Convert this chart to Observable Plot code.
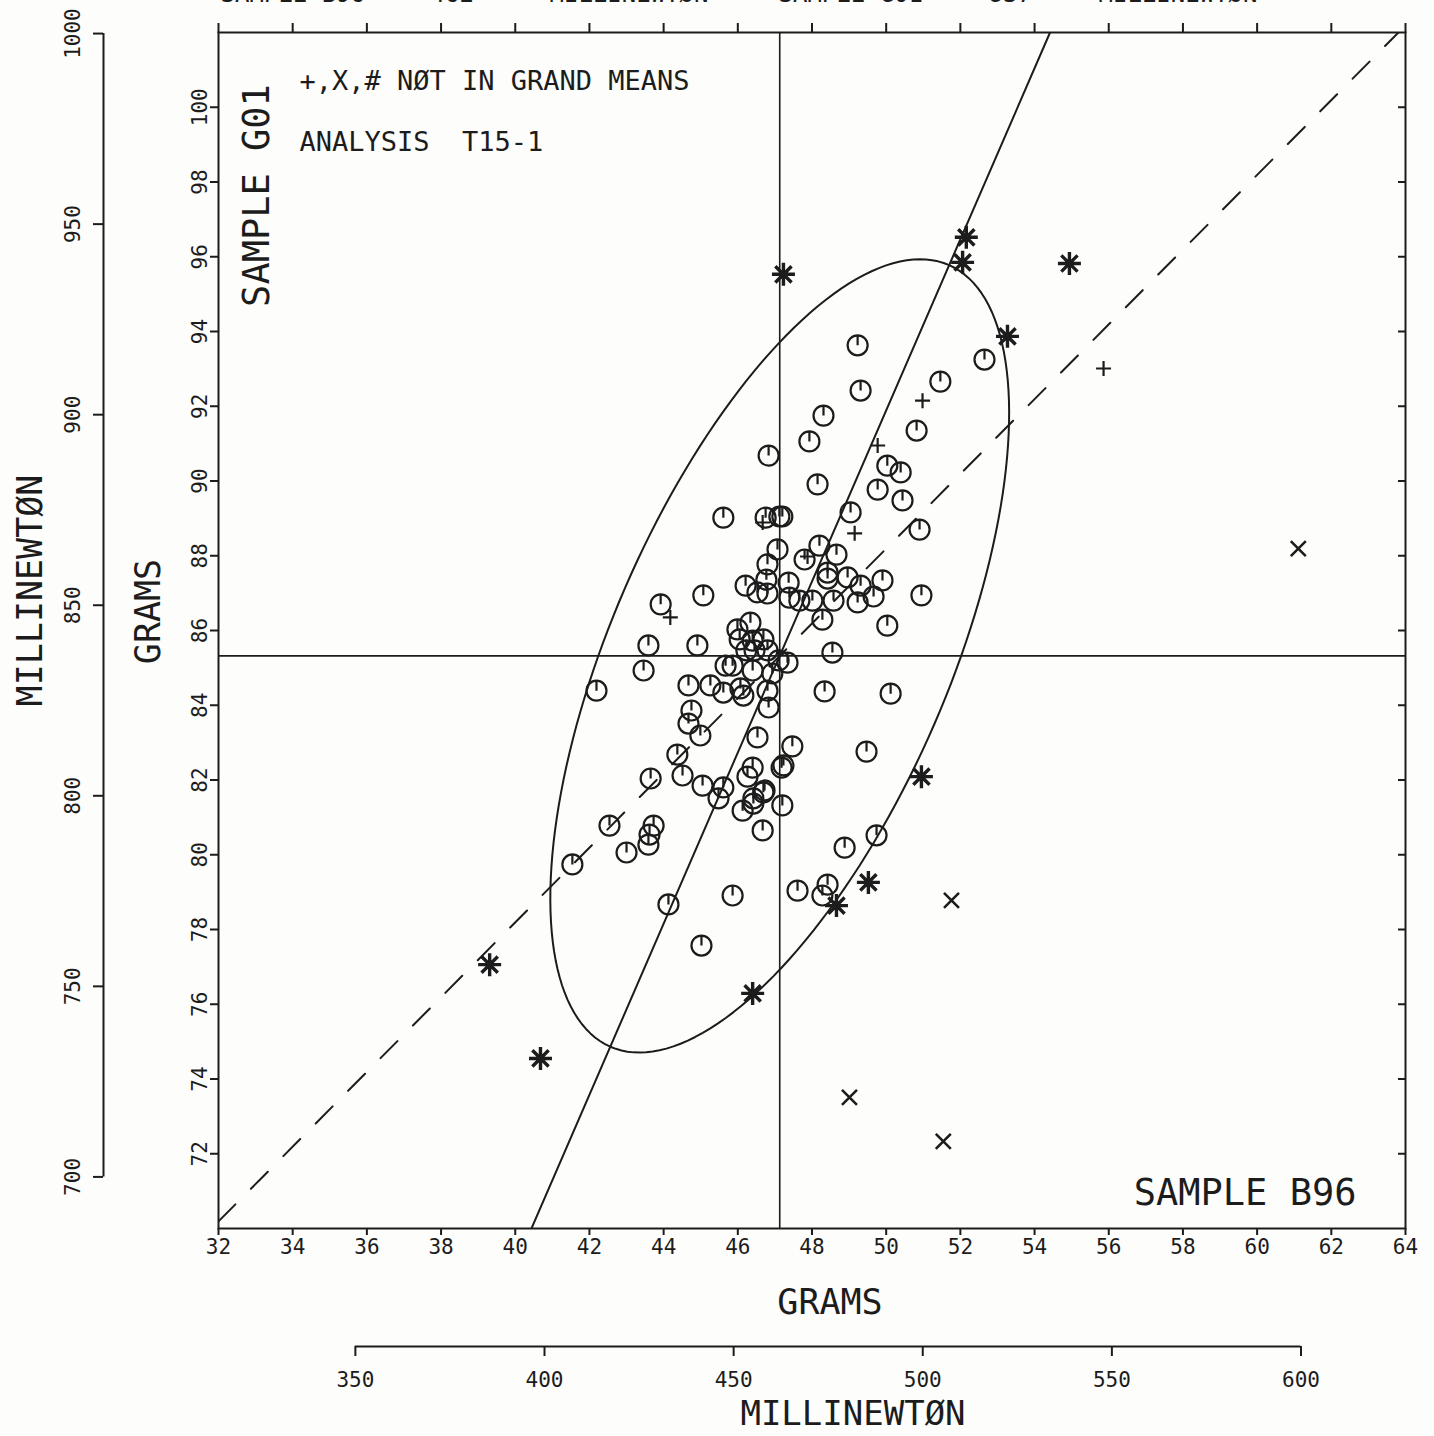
<!DOCTYPE html>
<html>
<head>
<meta charset="utf-8">
<script src="https://cdn.jsdelivr.net/npm/d3@7"></script>
<script src="https://cdn.jsdelivr.net/npm/@observablehq/plot@0.6"></script>
<style>
  html, body { margin: 0; padding: 0; background: #fdfdfb; }
  #chart { width: 1434px; height: 1436px; overflow: hidden; }
</style>
</head>
<body>
<div id="chart"></div>
<script>
// ---------- data (grams: x = sample B96, y = sample G01) ----------
const gramsPerMN = 1 / 9.80665;
const xTicksGrams = d3.range(32, 65, 2);
const yTicksGrams = d3.range(72, 101, 2);
const xTicksMN = [350, 400, 450, 500, 550, 600];
const yTicksMN = [700, 750, 800, 850, 900, 950, 1000];

const medianB96 = 47.13;
const medianG01 = 85.32;

const ellipseSemiMajor = 11.41;
const ellipseSemiMinor = 4.55;
const ellipseAngleDeg = 66.4;

// laboratories included in the grand means (circle with tick)
const inGrandMeans = [
  [49.23, 93.63], [49.31, 92.42], [48.31, 91.75], [47.93, 91.06], [46.83, 90.68],
  [52.65, 93.25], [51.46, 92.66], [50.82, 91.35], [50.03, 90.41], [50.39, 90.23],
  [48.15, 89.91], [49.77, 89.77], [50.44, 89.48], [49.04, 89.16], [50.90, 88.70],
  [45.61, 89.02], [46.75, 89.02], [47.12, 89.05], [47.20, 89.05], [47.07, 88.17],
  [48.20, 88.27], [48.66, 88.03], [47.80, 87.90], [46.80, 87.77], [46.77, 87.36],
  [46.21, 87.20], [46.53, 87.02], [46.80, 86.99], [47.37, 87.28], [45.07, 86.94],
  [47.39, 86.88], [47.66, 86.80], [48.01, 86.80], [48.42, 87.55], [48.42, 87.39],
  [48.96, 87.42], [49.31, 87.20], [49.90, 87.34], [49.66, 86.91], [49.23, 86.75],
  [48.58, 86.80], [50.95, 86.94], [43.92, 86.70], [48.28, 86.29], [46.34, 86.21],
  [45.99, 86.03], [46.05, 85.76], [46.40, 85.73], [46.69, 85.76], [43.59, 85.60],
  [44.91, 85.60], [46.23, 85.47], [46.45, 85.47], [46.80, 85.47], [47.10, 85.20],
  [47.34, 85.14], [45.67, 85.06], [45.86, 85.06], [46.40, 84.93], [48.55, 85.41],
  [43.46, 84.93], [46.93, 84.85], [42.19, 84.39], [44.67, 84.53], [45.26, 84.53],
  [45.61, 84.34], [46.07, 84.45], [46.15, 84.26], [46.80, 84.39], [48.34, 84.37],
  [50.03, 86.13], [50.12, 84.31], [44.75, 83.86], [44.67, 83.51], [44.99, 83.19],
  [46.83, 83.94], [46.53, 83.14], [47.47, 82.90], [44.37, 82.68], [43.65, 82.04],
  [44.51, 82.12], [45.05, 81.85], [45.61, 81.80], [45.48, 81.51], [46.40, 82.33],
  [46.26, 82.09], [47.18, 82.33], [47.23, 82.39], [46.72, 81.72], [46.69, 81.67],
  [46.42, 81.51], [46.42, 81.37], [46.13, 81.18], [47.20, 81.32], [46.67, 80.65],
  [49.47, 82.76], [42.54, 80.78], [43.73, 80.78], [43.62, 80.54], [43.59, 80.27],
  [43.00, 80.06], [41.54, 79.74], [49.74, 80.52], [48.88, 80.19], [48.42, 79.20],
  [48.28, 78.91], [47.61, 79.04], [45.86, 78.91], [44.13, 78.67], [45.02, 77.57]
];
// not in grand means: "+"
const notInMeansPlus = [
  [50.98, 92.15], [49.77, 90.95], [49.15, 88.60], [55.86, 93.01],
  [46.67, 88.89], [47.88, 87.98], [44.18, 86.35]
];
// not in grand means: "X"
const notInMeansCross = [
  [61.11, 88.19], [51.76, 78.78], [49.01, 73.51], [51.54, 72.33]
];
// not in grand means: "#" (asterisk)
const notInMeansStar = [
  [52.16, 96.52], [52.06, 95.85], [54.94, 95.82], [53.27, 93.87], [47.23, 95.53],
  [50.95, 82.09], [49.52, 79.26], [48.66, 78.64], [46.40, 76.29], [39.31, 77.06],
  [40.68, 74.55]
];

// ---------- derived geometry ----------
const ink = "#1c1c1c";
const xDom = [32, 64], yDom = [70, 102];
const th = ellipseAngleDeg * Math.PI / 180;
const ellipsePts = d3.range(0, 361, 2).map(deg => {
  const t = deg * Math.PI / 180;
  return {
    x: medianB96 + ellipseSemiMajor * Math.cos(th) * Math.cos(t) - ellipseSemiMinor * Math.sin(th) * Math.sin(t),
    y: medianG01 + ellipseSemiMajor * Math.sin(th) * Math.cos(t) + ellipseSemiMinor * Math.cos(th) * Math.sin(t)
  };
});
const slope = Math.tan(th);
const majorLine = yDom.map(y => ({x: medianB96 + (y - medianG01) / slope, y}));
const diagLine = xDom.map(x => ({x, y: medianG01 + (x - medianB96)}));

// ---------- symbols ----------
const clockSym = {draw(c, size) { const r = Math.sqrt(size / Math.PI); c.moveTo(r, 0); c.arc(0, 0, r, 0, 2 * Math.PI); c.moveTo(0, 0); c.lineTo(0, -r); }};
const starSym = {draw(c, size) { const r = Math.sqrt(size / Math.PI); for (let k = 0; k < 4; k++) { const a = k * Math.PI / 4; c.moveTo(r * Math.cos(a), r * Math.sin(a)); c.lineTo(-r * Math.cos(a), -r * Math.sin(a)); } }};
const plusSym = {draw(c, size) { const r = Math.sqrt(size / Math.PI); c.moveTo(-r, 0); c.lineTo(r, 0); c.moveTo(0, -r); c.lineTo(0, r); }};
const crossSym = {draw(c, size) { const r = Math.sqrt(size / Math.PI); c.moveTo(-r, -r); c.lineTo(r, r); c.moveTo(-r, r); c.lineTo(r, -r); }};

const font = "DejaVu Sans Mono";
const label = (txt, opts) => Plot.text([txt], {textAnchor: "middle", lineAnchor: "middle", fill: ink, ...opts});

const chart = Plot.plot({
  width: 1434,
  height: 1436,
  marginLeft: 218,
  marginRight: 29,
  marginTop: 32,
  marginBottom: 208,
  x: {domain: xDom, label: null},
  y: {domain: yDom, label: null},
  style: {fontFamily: font, background: "#fdfdfb", color: ink, overflow: "hidden"},
  marks: [
    // median lines
    Plot.ruleX([medianB96], {stroke: ink, strokeWidth: 1.6}),
    Plot.ruleY([medianG01], {stroke: ink, strokeWidth: 1.6}),
    // 45 degree dashed line
    Plot.line(diagLine, {x: "x", y: "y", stroke: ink, strokeWidth: 2, strokeDasharray: "24,22", clip: true}),
    // major axis line
    Plot.line(majorLine, {x: "x", y: "y", stroke: ink, strokeWidth: 2, clip: true}),
    // ellipse
    Plot.line(ellipsePts, {x: "x", y: "y", stroke: ink, strokeWidth: 2, curve: "linear"}),
    // points
    Plot.dot(inGrandMeans, {x: d => d[0], y: d => d[1], symbol: clockSym, r: 10, stroke: ink, strokeWidth: 2.2, fill: "none"}),
    Plot.dot(notInMeansPlus, {x: d => d[0], y: d => d[1], symbol: plusSym, r: 7.5, stroke: ink, strokeWidth: 2.2, fill: "none"}),
    Plot.dot(notInMeansCross, {x: d => d[0], y: d => d[1], symbol: crossSym, r: 7.5, stroke: ink, strokeWidth: 2.6, fill: "none"}),
    Plot.dot(notInMeansStar, {x: d => d[0], y: d => d[1], symbol: starSym, r: 11.5, stroke: ink, strokeWidth: 3.4, fill: "none"}),
    // frame
    Plot.frame({stroke: ink, strokeWidth: 2}),
    // gram axes
    Plot.axisX(xTicksGrams, {anchor: "bottom", tickSize: 7, tickPadding: 4, fontSize: 21, strokeWidth: 2, label: null}),
    Plot.axisX(xTicksGrams, {anchor: "top", tickSize: 10, tickFormat: () => "", strokeWidth: 2, label: null}),
    Plot.axisY(yTicksGrams, {anchor: "left", tickSize: 8, tickPadding: 4, tickRotate: -90, fontSize: 21, strokeWidth: 2, label: null}),
    Plot.axisY(yTicksGrams, {anchor: "right", tickSize: -8, tickFormat: () => "", strokeWidth: 2, label: null}),
    // millinewton axes
    Plot.ruleX([xDom[0]], {y1: yTicksMN[0] * gramsPerMN, y2: yTicksMN[yTicksMN.length - 1] * gramsPerMN, dx: -115, stroke: ink, strokeWidth: 2}),
    Plot.axisY(yTicksMN.map(v => v * gramsPerMN), {anchor: "left", dx: -115, tickSize: 10, tickPadding: 14, tickRotate: -90, fontSize: 21, strokeWidth: 2, tickFormat: g => String(Math.round(g / gramsPerMN)), label: null}),
    Plot.ruleY([yDom[0]], {x1: xTicksMN[0] * gramsPerMN, x2: xTicksMN[xTicksMN.length - 1] * gramsPerMN, dy: 118, stroke: ink, strokeWidth: 2}),
    Plot.axisX(xTicksMN.map(v => v * gramsPerMN), {anchor: "bottom", dy: 118, tickSize: 10, tickPadding: 16, fontSize: 21, strokeWidth: 2, tickFormat: g => String(Math.round(g / gramsPerMN)), label: null}),
    // axis titles
    label("GRAMS", {frameAnchor: "bottom", dx: 18, dy: 74, fontSize: 35}),
    label("MILLINEWTØN", {frameAnchor: "bottom", dx: 41, dy: 186, fontSize: 34}),
    label("GRAMS", {frameAnchor: "left", dx: -70, dy: -19, rotate: -90, fontSize: 35}),
    label("MILLINEWTØN", {frameAnchor: "left", dx: -188, dy: -40, rotate: -90, fontSize: 35}),
    // annotations
    label("SAMPLE G01", {frameAnchor: "top-left", dx: 39, dy: 163, rotate: -90, fontSize: 37}),
    label("SAMPLE B96", {frameAnchor: "bottom-right", textAnchor: "end", dx: -49, dy: -35, fontSize: 37}),
    label("+,X,# NØT IN GRAND MEANS", {frameAnchor: "top-left", textAnchor: "start", dx: 81, dy: 49, fontSize: 27}),
    label("ANALYSIS\u00a0\u00a0T15-1", {frameAnchor: "top-left", textAnchor: "start", dx: 81, dy: 110, fontSize: 27}),
    // header (cut off at the top of the page)
    label("SAMPLE B96", {frameAnchor: "top-left", textAnchor: "start", dx: 2, dy: -38, fontSize: 24}),
    label("462", {frameAnchor: "top-left", textAnchor: "start", dx: 212, dy: -38, fontSize: 24}),
    label("MILLINEWTØN", {frameAnchor: "top-left", textAnchor: "start", dx: 331, dy: -38, fontSize: 24}),
    label("SAMPLE G01", {frameAnchor: "top-left", textAnchor: "start", dx: 560, dy: -38, fontSize: 24}),
    label("837", {frameAnchor: "top-left", textAnchor: "start", dx: 770, dy: -38, fontSize: 24}),
    label("MILLINEWTØN", {frameAnchor: "top-left", textAnchor: "start", dx: 880, dy: -38, fontSize: 24})
  ]
});
document.getElementById("chart").appendChild(chart);
</script>
</body>
</html>
